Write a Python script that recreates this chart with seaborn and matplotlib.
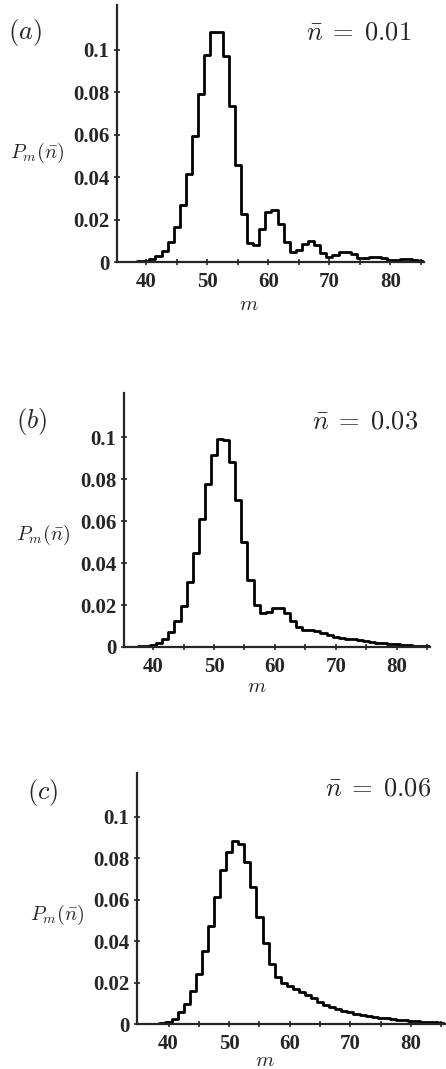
import numpy as np
import pandas as pd
import matplotlib
matplotlib.use("Agg")
import matplotlib.pyplot as plt
import seaborn as sns

# m values, one bin per integer
m_vals = list(range(36, 86))

# P_m for nbar = 0.01
p_a = [0.0000, 0.0001, 0.0002, 0.0004, 0.0006, 0.0012, 0.0027, 0.0054, 0.0093, 0.0164,
       0.0270, 0.0416, 0.0594, 0.0790, 0.0976, 0.1085, 0.1085, 0.0970, 0.0735, 0.0457,
       0.0227, 0.0090, 0.0082, 0.0155, 0.0236, 0.0243, 0.0180, 0.0094, 0.0047, 0.0055,
       0.0083, 0.0099, 0.0080, 0.0044, 0.0024, 0.0033, 0.0047, 0.0047, 0.0036, 0.0020,
       0.0017, 0.0024, 0.0024, 0.0018, 0.0011, 0.0010, 0.0012, 0.0012, 0.0010, 0.0005]

# P_m for nbar = 0.03
p_b = [0.0000, 0.0001, 0.0003, 0.0006, 0.0011, 0.0020, 0.0038, 0.0072, 0.0122, 0.0196,
       0.0312, 0.0450, 0.0610, 0.0775, 0.0915, 0.0993, 0.0985, 0.0880, 0.0700, 0.0498,
       0.0318, 0.0200, 0.0160, 0.0167, 0.0186, 0.0186, 0.0162, 0.0124, 0.0096, 0.0082,
       0.0080, 0.0076, 0.0067, 0.0056, 0.0048, 0.0044, 0.0040, 0.0036, 0.0032, 0.0028,
       0.0024, 0.0021, 0.0018, 0.0015, 0.0012, 0.0010, 0.0008, 0.0006, 0.0005, 0.0004]

# P_m for nbar = 0.06
p_c = [0.0000, 0.0001, 0.0002, 0.0004, 0.0008, 0.0024, 0.0056, 0.0096, 0.0160, 0.0243,
       0.0352, 0.0472, 0.0613, 0.0740, 0.0830, 0.0880, 0.0867, 0.0780, 0.0660, 0.0515,
       0.0390, 0.0290, 0.0226, 0.0200, 0.0183, 0.0170, 0.0154, 0.0139, 0.0123, 0.0107,
       0.0094, 0.0083, 0.0073, 0.0065, 0.0057, 0.0050, 0.0045, 0.0040, 0.0035, 0.0030,
       0.0027, 0.0024, 0.0021, 0.0018, 0.0015, 0.0013, 0.0011, 0.0010, 0.0008, 0.0007]

panel_tags = ["a", "b", "c"]
nbar_labels = ["0.01", "0.03", "0.06"]
x_ticks = [40, 50, 60, 70, 80]
y_ticks = [0, 0.02, 0.04, 0.06, 0.08, 0.1]
y_ticklabels = ["0", "0.02", "0.04", "0.06", "0.08", "0.1"]

sns.set_style("ticks")
plt.rcParams["mathtext.fontset"] = "cm"
plt.rcParams["font.family"] = ["Liberation Serif", "DejaVu Serif"]

W, H = 446, 1069
fig = plt.figure(figsize=(W / 100, H / 100), dpi=100)

# axes boxes in pixels: left, right, top, bottom
boxes = [(117, 424, 5, 262), (124, 430, 393, 647), (137, 445, 773, 1024)]
xlims = [(35.2, 85.5), (35.2, 85.5), (34.8, 85.6)]
# text spots in pixels
tag_xy = [(25, 33), (32, 422), (43, 792)]
nbar_xy = [(359, 33), (365, 423), (378, 790)]
ylab_xy = [(37, 153), (43, 535), (57, 915)]
xlab_xy = [(249, 305), (257, 687), (265, 1061)]

edges = [35.5 + k for k in range(51)]

for i, p in enumerate([p_a, p_b, p_c]):
    l, r, t, b = boxes[i]
    ax = fig.add_axes([l / W, 1 - b / H, (r - l) / W, (b - t) / H])
    df = pd.DataFrame({"m": m_vals, "p": p})
    sns.histplot(data=df, x="m", weights="p", bins=edges, element="step",
                 fill=False, color="black", linewidth=2.0, ax=ax)
    ax.set_xlim(*xlims[i])
    ax.set_ylim(0, 0.121)
    ax.set_xticks(x_ticks)
    ax.set_xticks([45, 55, 65, 75, 85], minor=True)
    ax.set_yticks(y_ticks)
    ax.set_yticklabels(y_ticklabels)
    ax.set_xlabel("")
    ax.set_ylabel("")
    sns.despine(ax=ax)
    for s in ["left", "bottom"]:
        ax.spines[s].set_linewidth(1.6)
    ax.tick_params(axis="both", which="both", direction="inout", length=5,
                   width=1.2, labelsize=15)
    ax.tick_params(axis="x", pad=5)
    ax.tick_params(axis="y", pad=3)
    for lab in ax.get_xticklabels() + ax.get_yticklabels():
        lab.set_fontweight("bold")

    fig.text(tag_xy[i][0] / W, 1 - tag_xy[i][1] / H, "$(" + panel_tags[i] + ")$",
             fontsize=19, ha="center", va="center")
    fig.text(nbar_xy[i][0] / W, 1 - nbar_xy[i][1] / H,
             r"$\bar{n}\;=\;" + nbar_labels[i] + "$",
             fontsize=19, ha="center", va="center")
    fig.text(ylab_xy[i][0] / W, 1 - ylab_xy[i][1] / H, r"$P_m(\bar{n})$",
             fontsize=14.5, ha="center", va="center")
    fig.text(xlab_xy[i][0] / W, 1 - xlab_xy[i][1] / H, "$m$",
             fontsize=15, ha="center", va="center")

plt.savefig("out.png", dpi=100)
